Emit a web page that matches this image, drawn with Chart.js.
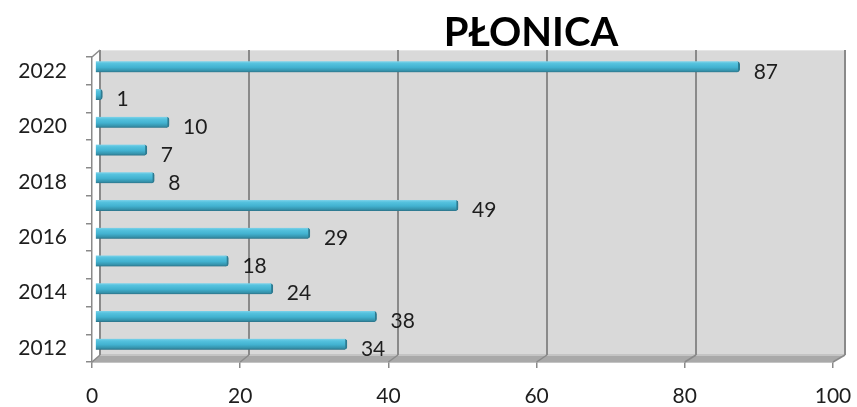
<!DOCTYPE html>
<html>
<head>
<meta charset="utf-8">
<script src="https://cdn.jsdelivr.net/npm/chart.js@4.4.1/dist/chart.umd.min.js"></script>
<style>
  html, body { margin: 0; padding: 0; background: #ffffff; }
  #wrap { width: 857px; height: 407px; }
</style>
</head>
<body>
<div id="wrap"><canvas id="c" width="857" height="407"></canvas></div>
<script>
// Cases per year
const years = ['2012', '2013', '2014', '2015', '2016', '2017', '2018', '2019', '2020', '2021', '2022'];
const cases = [34, 38, 24, 18, 29, 49, 8, 7, 10, 1, 87];
const xTicks = [0, 20, 40, 60, 80, 100];
const chartTitle = 'PŁONICA';

const FONT = 'Lato, "Open Sans", sans-serif';
const DEPTH_X = 8, DEPTH_Y = -7;      // offset of the back wall
const BAR_DX = 3, BAR_DY = -4;        // bars sit halfway into the depth
const LINE = '#8a8a8a';

// Back wall, floor and gridlines drawn behind the bars
const wallPlugin = {
  id: 'wall',
  beforeDatasetsDraw(chart) {
    const { ctx, chartArea: a, scales: { x } } = chart;
    const x0 = x.getPixelForValue(0), x1 = x.getPixelForValue(100);
    const back = v => x.getPixelForValue(v) + DEPTH_X + v * 0.04;
    const bl = back(0), br = back(100);
    const bt = a.top + DEPTH_Y, bb = a.bottom + DEPTH_Y;
    ctx.save();
    // wall
    ctx.fillStyle = '#d9d9d9';
    ctx.fillRect(bl, bt, br - bl, bb - bt);
    ctx.strokeStyle = '#e6e6e6';
    ctx.lineWidth = 1;
    ctx.beginPath(); ctx.moveTo(bl, bt + 0.5); ctx.lineTo(br, bt + 0.5); ctx.stroke();
    // floor
    ctx.fillStyle = '#a9a9a9';
    ctx.beginPath();
    ctx.moveTo(x0, a.bottom); ctx.lineTo(x1, a.bottom);
    ctx.lineTo(br, bb); ctx.lineTo(bl, bb); ctx.closePath();
    ctx.fill();
    ctx.fillStyle = '#c4c4c4';
    ctx.fillRect(bl, bb - 1, br - bl, 2);
    // gridlines on the wall
    ctx.strokeStyle = LINE;
    ctx.lineWidth = 2;
    xTicks.forEach(v => {
      if (v === 0) return;
      const gx = back(v);
      ctx.beginPath(); ctx.moveTo(gx, bt); ctx.lineTo(gx, bb); ctx.stroke();
    });
    ctx.beginPath(); ctx.moveTo(bl, bt); ctx.lineTo(bl, bb); ctx.stroke();
    // depth edges
    ctx.lineWidth = 1.5;
    ctx.beginPath(); ctx.moveTo(x0, a.top); ctx.lineTo(bl, bt); ctx.stroke();
    xTicks.forEach(v => {
      ctx.beginPath(); ctx.moveTo(x.getPixelForValue(v), a.bottom); ctx.lineTo(back(v), bb); ctx.stroke();
    });
    ctx.restore();
    // shift bars into the middle of the depth
    ctx.save();
    ctx.translate(BAR_DX, BAR_DY);
  },
  afterDatasetsDraw(chart) {
    chart.ctx.restore();
    // value labels
    const { ctx, scales: { x, y } } = chart;
    ctx.save();
    ctx.font = '21px ' + FONT;
    ctx.fillStyle = '#1e1e1e';
    ctx.textAlign = 'left';
    ctx.textBaseline = 'middle';
    cases.forEach((v, i) => {
      const px = x.getPixelForValue(v) + BAR_DX + 14;
      const py = y.getPixelForValue(i) + 1;
      ctx.fillText(String(v), px, py);
    });
    ctx.restore();
  },
  afterDraw(chart) {
    const { ctx } = chart;
    ctx.save();
    ctx.font = 'bold 40px ' + FONT;
    ctx.fillStyle = '#000';
    ctx.textAlign = 'center';
    ctx.textBaseline = 'alphabetic';
    ctx.fillText(chartTitle, 531, 46);
    ctx.restore();
  }
};

function barFill(context) {
  const chart = context.chart;
  const y = chart.scales && chart.scales.y;
  const yc = y ? y.getPixelForValue(context.dataIndex) : NaN;
  if (!Number.isFinite(yc)) return '#4bacc6';
  const g = chart.ctx.createLinearGradient(0, yc - 5.5, 0, yc + 5.5);
  g.addColorStop(0, '#7fd3ea');
  g.addColorStop(0.2, '#55c2de');
  g.addColorStop(0.55, '#42b2d0');
  g.addColorStop(0.85, '#3592ab');
  g.addColorStop(1, '#2c7288');
  return g;
}

new Chart(document.getElementById('c'), {
  type: 'bar',
  data: {
    labels: years,
    datasets: [{
      data: cases,
      backgroundColor: barFill,
      borderColor: '#2d7a90',
      borderWidth: { top: 0, right: 2, bottom: 0, left: 0 },
      borderSkipped: 'left',
      borderRadius: { topRight: 3, bottomRight: 3, topLeft: 0, bottomLeft: 0 },
      barThickness: 11
    }]
  },
  options: {
    indexAxis: 'y',
    responsive: false,
    animation: false,
    devicePixelRatio: 1,
    layout: { padding: { top: 57, right: 24, bottom: 0, left: 0 } },
    plugins: { legend: { display: false }, tooltip: { enabled: false }, title: { display: false } },
    scales: {
      x: {
        min: 0, max: 100,
        afterBuildTicks: s => { s.ticks = xTicks.map(v => ({ value: v })); },
        afterFit: s => { s.height = 45; s.paddingLeft = 0; s.paddingRight = 0; },
        grid: { drawOnChartArea: false, drawTicks: true, tickLength: 6, color: LINE, lineWidth: 1.5 },
        border: { display: true, color: LINE, width: 1.5 },
        ticks: { color: '#1e1e1e', font: { family: FONT, size: 21 }, padding: 16, maxRotation: 0 }
      },
      y: {
        reverse: true,
        afterFit: s => { s.width = 92; s.paddingTop = 0; s.paddingBottom = 0; },
        grid: { offset: true, drawOnChartArea: false, drawTicks: true, tickLength: 6, color: LINE, lineWidth: 1.5 },
        border: { display: true, color: LINE, width: 1.5 },
        ticks: {
          autoSkip: false,
          color: '#1e1e1e',
          font: { family: FONT, size: 21 },
          padding: 19,
          callback: function (val, idx) { const lab = years[idx]; return Number(lab) % 2 === 0 ? lab : ''; }
        }
      }
    }
  },
  plugins: [wallPlugin]
});
</script>
</body>
</html>
